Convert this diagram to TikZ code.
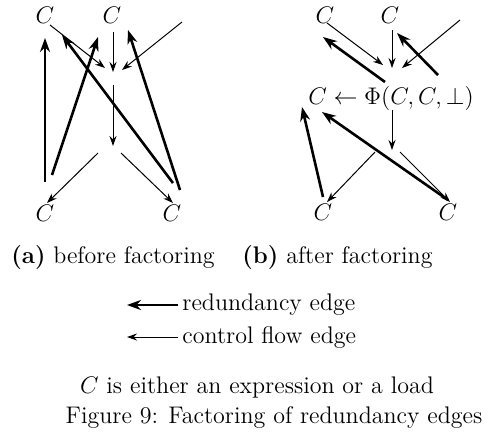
\documentclass[tikz,border=0pt,12pt]{standalone}
\usepackage{tikz}
\usetikzlibrary{arrows.meta, positioning, calc}
\tikzstyle{flow} = [line width=0.5pt,-{Stealth[length=5pt,width=3.5pt]}]
\tikzstyle{redund} = [line width=1.3pt,-{Stealth[length=7pt,width=5pt]}]

\begin{document}
\begin{tikzpicture}[
    x=0.5pt, y=-0.5pt,
    cnode/.style={inner sep=1pt},
    label/.style={inner sep=0pt}
]
\useasboundingbox (0,0) rectangle (490,434);

% (a) before factoring
\node[cnode] (atl) at (45,15) {$C$};
\node[cnode] (atm) at (112,15) {$C$};
\node[cnode] (abl) at (45,213) {$C$};
\node[cnode] (abr) at (172,213) {$C$};
\coordinate (afree) at (182,22);
\coordinate (ajoin) at (113,72);
\coordinate (asplit) at (113,146);

\draw[flow] ($(atl)+(5,10)$) -- ($(ajoin)+(-8,-4)$);
\draw[flow] ($(atm)+(1,17)$) -- (ajoin);
\draw[flow] (afree) -- ($(ajoin)+(9,-2)$);
\draw[flow] ($(ajoin)+(0,13)$) -- (asplit);
\draw[flow] ($(asplit)+(-15,7)$) -- ($(abl)+(2,-10)$);
\draw[flow] ($(asplit)+(8,7)$) -- ($(abr)+(1,-10)$);

\draw[redund] ($(abl)+(0,-31)$) -- ($(atl)+(0,23)$);
\draw[redund] ($(abl)+(7,-38)$) -- ($(atm)+(-14,22)$);
\draw[redund] ($(abr)+(1,-30)$) -- ($(atl)+(17,20)$);
\draw[redund] ($(abr)+(8,-23)$) -- ($(atm)+(16,15)$);

% (b) after factoring
\node[cnode] (btl) at (325,15) {$C$};
\node[cnode] (btm) at (390,15) {$C$};
\node[cnode] (bphi) at (391,98) {$C \leftarrow \Phi(C,C,\bot)$};
\node[cnode] (bbl) at (323,212) {$C$};
\node[cnode] (bbr) at (448,212) {$C$};
\coordinate (bfree) at (460,20);
\coordinate (bsplit) at (392,150);

\draw[flow] ($(btl)+(2,8)$) -- ($(bphi)+(-8,-33)$);
\draw[flow] ($(btm)+(2,15)$) -- ($(bphi)+(1,-30)$);
\draw[flow] (bfree) -- ($(bphi)+(11,-30)$);
\draw[flow] ($(bphi)+(1,12)$) -- (bsplit);
\draw[flow] ($(bsplit)+(-17,2)$) -- ($(bbl)+(4,-10)$);
\draw[flow] ($(bsplit)+(8,2)$) -- ($(bbr)+(2,-10)$);

\draw[redund] ($(bphi)+(-6,-16)$) -- ($(btl)+(-2,22)$);
\draw[redund] ($(bphi)+(47,-23)$) -- ($(btm)+(7,18)$);
\draw[redund] ($(bbl)+(0,-15)$) -- ($(bphi)+(-89,9)$);
\draw[redund] ($(bbr)+(0,-12)$) -- ($(bphi)+(-69,14)$);

% captions and legend
\node[label] (capa) at (113,258) {\textbf{(a)} before factoring};
\node[label, anchor=west] (capb) at (242,258) {\textbf{(b)} after factoring};
\node[label, anchor=west] (lred) at (182,305) {redundancy edge};
\node[label, anchor=west] (lflow) at (182,337) {control flow edge};
\coordinate (lredend) at (127,305);
\coordinate (lflowend) at (127,337);
\draw[redund, shorten <=2pt] (lred.west) -- (lredend);
\draw[flow, shorten <=2pt] (lflow.west) -- (lflowend);
\node[label] (note) at (257,387) {$C$ is either an expression or a load};
\node[label] (fig) at (274,417) {Figure 9: Factoring of redundancy edges};
\end{tikzpicture}
\end{document}
